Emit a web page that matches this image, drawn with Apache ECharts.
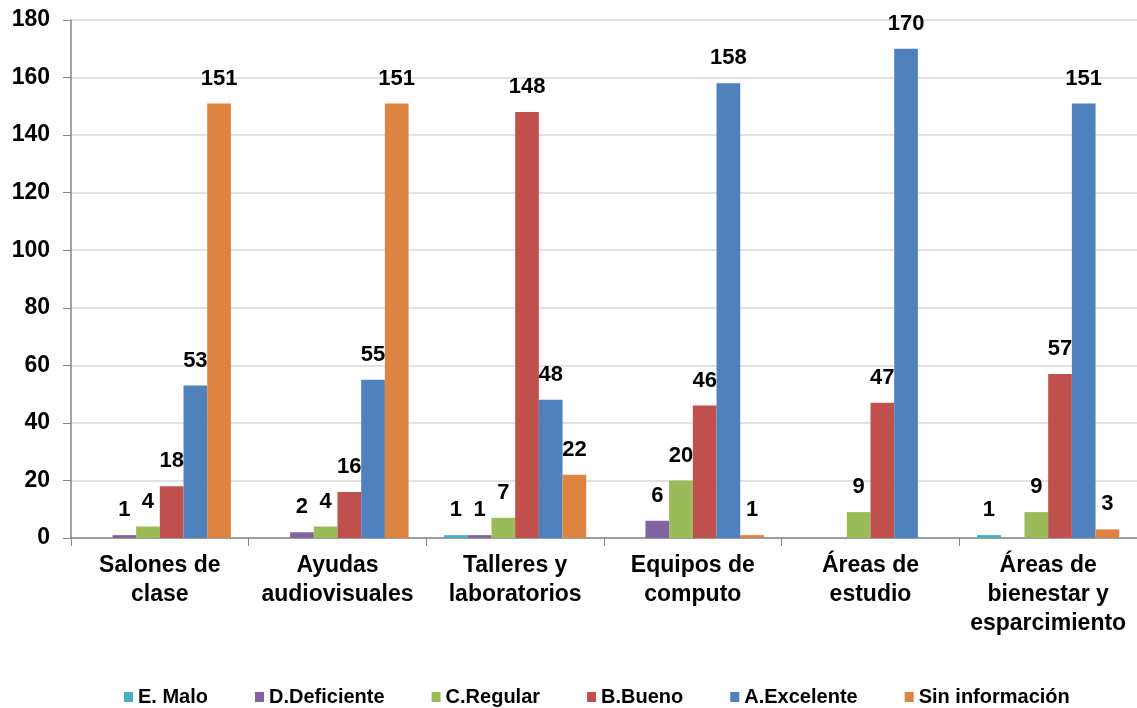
<!DOCTYPE html>
<html lang="es">
<head>
<meta charset="UTF-8">
<title>Evaluación de espacios</title>
<script src="https://cdn.jsdelivr.net/npm/echarts@6/dist/echarts.min.js"></script>
<style>
  html, body { margin: 0; padding: 0; background: #fff; }
  #main { width: 1137px; height: 708px; }
</style>
</head>
<body>
<div id="main"></div>
<script>
// categorias del eje x
var categorias = ['Salones de\nclase', 'Ayudas\naudiovisuales', 'Talleres y\nlaboratorios',
                  'Equipos de\ncomputo', 'Áreas de\nestudio', 'Áreas de\nbienestar y\nesparcimiento'];
// valores por serie (null = sin barra)
var malo       = [null, null, 1, null, null, 1];
var deficiente = [1, 2, 1, 6, null, null];
var regular    = [4, 4, 7, 20, 9, 9];
var bueno      = [18, 16, 148, 46, 47, 57];
var excelente  = [53, 55, 48, 158, 170, 151];
var sinInfo    = [151, 151, 22, 1, null, 3];
var ticksY     = [0, 20, 40, 60, 80, 100, 120, 140, 160, 180];

var fuente = 'Liberation Sans, Arial, sans-serif';

function serie(nombre, datos, color) {
    return {
        name: nombre,
        type: 'bar',
        data: datos,
        barGap: '0%',
        barCategoryGap: '20%',
        itemStyle: { color: color },
        label: {
            show: true,
            position: 'top',
            distance: 14,
            color: '#000',
            fontFamily: fuente,
            fontWeight: 'bold',
            fontSize: 22
        }
    };
}

var chart = echarts.init(document.getElementById('main'));
chart.setOption({
    animation: false,
    textStyle: { fontFamily: fuente },
    grid: { left: 71, right: -2, top: 20, bottom: 170 },
    legend: {
        top: 682,
        left: 119,
        itemWidth: 9,
        itemHeight: 10,
        itemGap: 47,
        icon: 'rect',
        textStyle: { fontFamily: fuente, fontWeight: 'bold', fontSize: 20, color: '#000' },
        data: ['E. Malo', 'D.Deficiente', 'C.Regular', 'B.Bueno', 'A.Excelente', 'Sin información']
    },
    xAxis: {
        type: 'category',
        data: categorias,
        axisLine: { lineStyle: { color: '#878787', width: 1.5 } },
        axisTick: { show: true, length: 8, lineStyle: { color: '#878787' } },
        axisLabel: {
            color: '#000', fontFamily: fuente, fontWeight: 'bold', fontSize: 23,
            lineHeight: 29, margin: 13, interval: 0
        }
    },
    yAxis: {
        type: 'value',
        min: ticksY[0],
        max: ticksY[ticksY.length - 1],
        interval: 20,
        axisLine: { show: true, lineStyle: { color: '#878787', width: 1.5 } },
        axisTick: { show: true, length: 8, lineStyle: { color: '#878787' } },
        splitLine: { lineStyle: { color: '#D9D9D9', width: 1.5 } },
        axisLabel: { color: '#000', fontFamily: fuente, fontWeight: 'bold', fontSize: 23, margin: 21 }
    },
    series: [
        serie('E. Malo', malo, '#4BACC6'),
        serie('D.Deficiente', deficiente, '#8064A2'),
        serie('C.Regular', regular, '#9BBB59'),
        serie('B.Bueno', bueno, '#C0504D'),
        serie('A.Excelente', excelente, '#4F81BD'),
        serie('Sin información', sinInfo, '#DD8540')
    ]
});
</script>
</body>
</html>
